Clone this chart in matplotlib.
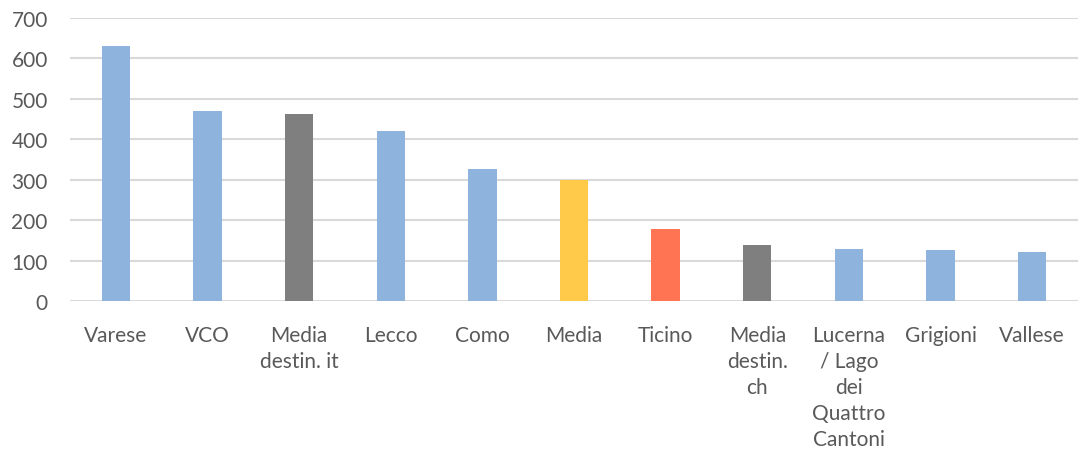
import numpy as np
import matplotlib.pyplot as plt

# dati
categorie = ["Varese", "VCO", "Media\ndestin. it", "Lecco", "Como", "Media",
             "Ticino", "Media\ndestin.\nch", "Lucerna\n/ Lago\ndei\nQuattro\nCantoni",
             "Grigioni", "Vallese"]
valori = [631, 469, 463, 421, 327, 300, 178, 139, 128, 126, 122]
colori = ["#8EB4DE", "#8EB4DE", "#7F7F7F", "#8EB4DE", "#8EB4DE", "#FFC94A",
          "#FF7452", "#7F7F7F", "#8EB4DE", "#8EB4DE", "#8EB4DE"]
yticks = [0, 100, 200, 300, 400, 500, 600, 700]

plt.rcParams['font.family'] = ['Lato', 'DejaVu Sans']

fig = plt.figure(figsize=(10.79, 4.6), dpi=100)
ax = fig.add_axes([70/1079, 1 - 302/460, 1008/1079, 283/460])

x = np.arange(len(categorie))
ax.bar(x, valori, width=0.31, color=colori, zorder=3)

ax.set_xlim(-0.5, len(categorie) - 0.5)
ax.set_ylim(0, 700)
ax.set_yticks(yticks)
ax.set_xticks(x)
ax.set_xticklabels(categorie, linespacing=1.38)
ax.tick_params(axis='both', length=0, labelsize=15, colors='#595959')
ax.tick_params(axis='x', pad=17)
ax.tick_params(axis='y', pad=16)
ax.grid(axis='y', color='#D9D9D9', linewidth=1.5, zorder=0)
for s in ax.spines.values():
    s.set_visible(False)

fig.savefig("out.png", dpi=100)
